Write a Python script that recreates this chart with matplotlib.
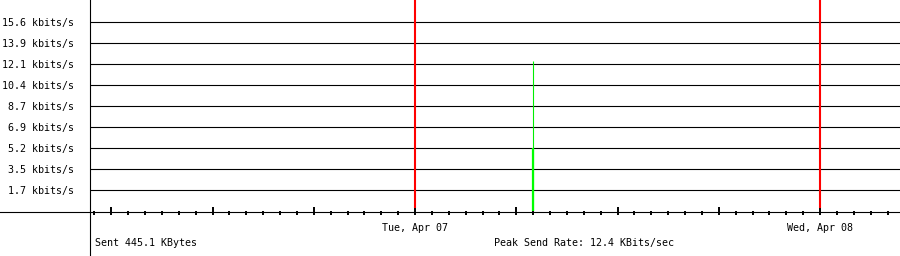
"""
Send rate, last 48 hours
========================
"""

import matplotlib.pyplot as plt
from matplotlib.lines import Line2D
from matplotlib.ticker import MultipleLocator

##################################################
# Data (hours counted from Mon Apr 06 00:00)
x_start = 4.74
x_end = 52.74
y_top = 17.42

grid_values = [1.7, 3.5, 5.2, 6.9, 8.7, 10.4, 12.1, 13.9, 15.6]
grid_labels = [f"{v} kbits/s" for v in grid_values]

day_hours = [24, 48]
day_labels = ["Tue, Apr 07", "Wed, Apr 08"]

sample_hours = [30.97]
avg_kbps = [5.2]
peak_kbps = [12.4]

sent_text = "Sent 445.1 KBytes"
peak_text = "Peak Send Rate: 12.4 KBits/sec"

##################################################
# Plot
W, H = 900, 256
font = dict(family="DejaVu Sans Mono", fontsize=7.2, color="black")

fig = plt.figure(figsize=(W / 100, H / 100), dpi=100)
fig.patch.set_facecolor("white")


def fx(px):
    return px / W


def fy(py):
    return 1 - py / H


ax = fig.add_axes([fx(90), fy(211), fx(900) - fx(90), fy(0) - fy(211)])
ax.set_xlim(x_start, x_end)
ax.set_ylim(0, y_top)
for s in ax.spines.values():
    s.set_visible(False)

# horizontal gridlines and labels
ax.set_yticks(grid_values)
ax.set_yticklabels(grid_labels, **font)
ax.tick_params(axis="y", length=0, pad=11.5)
for v in grid_values:
    ax.axhline(v, color="black", lw=0.8, zorder=1)

# hour ticks, major every 6 hours
ax.xaxis.set_major_locator(MultipleLocator(6))
ax.xaxis.set_minor_locator(MultipleLocator(1))
ax.tick_params(axis="x", which="major", direction="inout", length=5.8,
               width=1.4, labelbottom=False, color="black")
ax.tick_params(axis="x", which="minor", direction="out", length=2.9,
               width=1.4, color="black")

# day boundaries
for h, lab in zip(day_hours, day_labels):
    ax.axvline(h, ymin=4 / 211, ymax=1, color="#ff0000", lw=1.5, zorder=2)
    ax.text(h, -17 / 211 * y_top, lab, ha="center", va="center",
            clip_on=False, **font)

# traffic: thick = average, thin = peak
ax.vlines(sample_hours, 0, peak_kbps, color="#00ee00", lw=0.8, zorder=3)
ax.vlines(sample_hours, 0, avg_kbps, color="#00ff00", lw=1.6, zorder=3)

# axis lines running past the plot area
fig.add_artist(Line2D([fx(90), fx(90)], [fy(0), fy(256)], color="black",
                      lw=0.8, transform=fig.transFigure))
fig.add_artist(Line2D([fx(0), fx(900)], [fy(211.5), fy(211.5)], color="black",
                      lw=0.8, transform=fig.transFigure))

fig.text(fx(95), fy(243), sent_text, ha="left", va="center", **font)
fig.text(fx(494), fy(243), peak_text, ha="left", va="center", **font)

fig.savefig("out.png", dpi=100, facecolor="white")
